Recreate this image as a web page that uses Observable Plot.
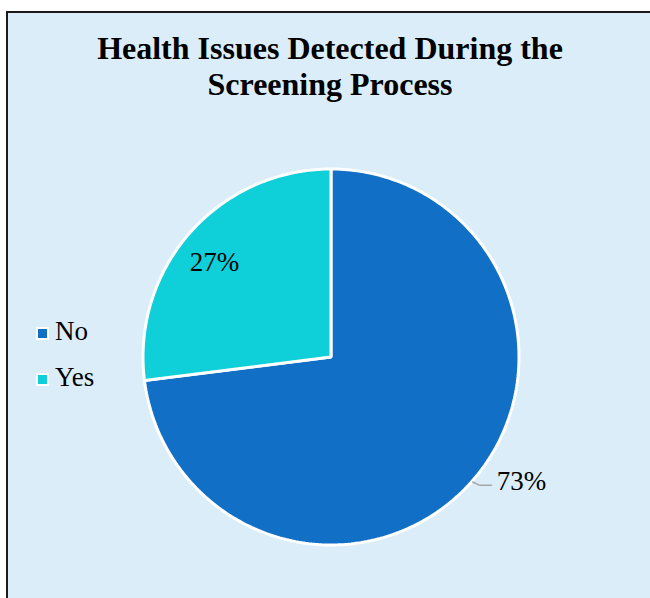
<!DOCTYPE html>
<html><head><meta charset="utf-8">
<script src="https://cdn.jsdelivr.net/npm/d3@7"></script>
<script src="https://cdn.jsdelivr.net/npm/@observablehq/plot@0.6"></script>
<style>
html,body{margin:0;padding:0;background:#fff;}
#wrap{position:relative;width:650px;height:598px;overflow:hidden;font-family:"Liberation Serif","Times New Roman",serif;color:#000;}
#frame{position:absolute;left:6px;top:11px;right:-5px;bottom:-5px;background:#DBEDF8;border-left:2px solid #1a1a1a;border-top:2px solid #1a1a1a;}
#title{position:absolute;left:0;width:660px;top:30px;text-align:center;font-weight:bold;font-size:32px;line-height:36px;}
#chart{position:absolute;left:0;top:0;}
.lg{position:absolute;left:36px;font-size:27px;line-height:27px;}
.sw{position:absolute;left:0;width:9px;height:9px;border:2px solid #fff;}
.lt{position:absolute;left:19px;top:0;white-space:nowrap;}
</style>
</head><body>
<div id="wrap">
  <div id="frame"></div>
  <div id="title">Health Issues Detected During the<br>Screening Process</div>
  <div id="chart"></div>
  <div id="legend"></div>
</div>
<script>
const categories = ["No", "Yes"];
const values = [73, 27];
const labels = ["73%", "27%"];
const colors = ["#1170C6", "#0FCFD8"];

const data = categories.map((c, i) => ({key: c, value: values[i], label: labels[i]}));
const arcs = d3.pie().sort(null).value(d => d.value)(data);

const pt = (a, r) => [r * Math.sin(a), r * Math.cos(a)];
const poly = [];
for (const a of arcs) {
  const n = Math.max(2, Math.ceil((a.endAngle - a.startAngle) / (2 * Math.PI) * 360));
  poly.push({key: a.data.key, x: 0, y: 0});
  for (let k = 0; k <= n; k++) {
    const t = a.startAngle + (a.endAngle - a.startAngle) * k / n;
    const [x, y] = pt(t, 1);
    poly.push({key: a.data.key, x, y});
  }
}
const mid = a => (a.startAngle + a.endAngle) / 2;

const noArc = arcs[0], yesArc = arcs[1];
const [yx, yy] = pt(mid(yesArc), 0.79);
const [sx, sy] = pt(mid(noArc), 1.005);
const leader = [
  {x: sx, y: sy},
  {x: sx + 0.038, y: sy - 0.018},
  {x: sx + 0.1, y: sy - 0.018}
];
const serif = "'Liberation Serif', 'Times New Roman', serif";
const textData = [
  {x: yx, y: yy, label: yesArc.data.label},
  {x: sx + 0.128, y: sy + 0.003, label: noArc.data.label}
];

const plot = Plot.plot({
  width: 650,
  height: 598,
  marginLeft: 142.5,
  marginRight: 131.5,
  marginTop: 168.5,
  marginBottom: 53.5,
  x: {domain: [-1, 1], axis: null},
  y: {domain: [-1, 1], axis: null},
  color: {domain: categories, range: colors},
  style: {background: "transparent", overflow: "visible", fontFamily: serif},
  marks: [
    Plot.line(poly, {x: "x", y: "y", z: "key", fill: "key", stroke: "white", strokeWidth: 3, curve: "linear-closed", strokeLinejoin: "miter"}),
    Plot.line(leader, {x: "x", y: "y", stroke: "#A6A6A6", strokeWidth: 1.5}),
    Plot.text([textData[0]], {x: "x", y: "y", text: "label", fontSize: 27, fontFamily: serif, fill: "black", textAnchor: "middle", dx: -5, dy: 4}),
    Plot.text([textData[1]], {x: "x", y: "y", text: "label", fontSize: 27, fontFamily: serif, fill: "black", textAnchor: "start"})
  ]
});
document.getElementById("chart").appendChild(plot);

const legend = document.getElementById("legend");
const legTops = [317.5, 363.5];
categories.forEach((c, i) => {
  const g = document.createElement("div");
  g.className = "lg";
  g.style.top = legTops[i] + "px";
  const sw = document.createElement("div");
  sw.className = "sw";
  sw.style.background = colors[i];
  sw.style.top = "9px";
  const t = document.createElement("div");
  t.className = "lt";
  t.textContent = c;
  g.appendChild(sw); g.appendChild(t);
  legend.appendChild(g);
});
</script>
</body></html>
